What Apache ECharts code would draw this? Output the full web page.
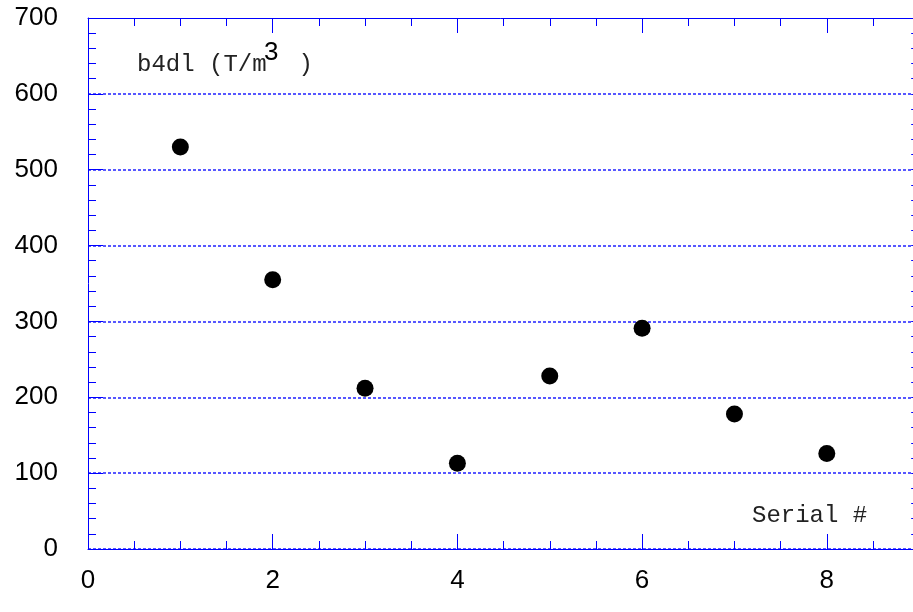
<!DOCTYPE html>
<html>
<head>
<meta charset="utf-8">
<script src="https://cdn.jsdelivr.net/npm/echarts@6/dist/echarts.min.js"></script>
<style>
html,body{margin:0;padding:0;background:#fff;}
#chart{width:913px;height:612px;}
</style>
</head>
<body>
<div id="chart"></div>
<script>
// Data
const serials = [1, 2, 3, 4, 5, 6, 7, 8];
const b4dl = [530, 355, 212, 113, 228, 291, 178, 126];
const yTicks = [0, 100, 200, 300, 400, 500, 600, 700];
const xTicks = [0, 2, 4, 6, 8];

const BLUE = '#0000ff';
const chart = echarts.init(document.getElementById('chart'), null, {renderer: 'canvas'});

const points = serials.map((s, i) => [s, b4dl[i]]);

function xAx(pos, labels) {
  return {
    type: 'value', position: pos, min: 0, max: 10, interval: 2,
    axisLine: {show: true, onZero: false, lineStyle: {color: BLUE, width: 1}},
    axisTick: {show: true, inside: true, length: 15, lineStyle: {color: BLUE}},
    minorTick: {show: true, splitNumber: 4, length: 8, lineStyle: {color: BLUE}},
    axisLabel: labels ? {
      show: true, fontSize: 26, color: '#000', fontFamily: 'Liberation Sans, Arial, sans-serif', margin: 19,
      formatter: v => (xTicks.indexOf(v) >= 0 ? String(v) : '')
    } : {show: false},
    splitLine: {show: false}
  };
}

const option = {
  backgroundColor: '#fff',
  animation: false,
  grid: {left: 88, top: 18, width: 923.5, height: 531, containLabel: false, outerBoundsMode: 'none'},
  xAxis: [xAx('bottom', true), xAx('top', false)],
  yAxis: [
    {
      type: 'value', position: 'left', min: 0, max: 700, interval: 100,
      axisLine: {show: true, onZero: false, lineStyle: {color: BLUE, width: 1}},
      axisTick: {show: true, inside: true, length: 15, lineStyle: {color: BLUE}},
      minorTick: {show: true, splitNumber: 5, length: 8, lineStyle: {color: BLUE}},
      axisLabel: {
        show: true, fontSize: 26, color: '#000', fontFamily: 'Liberation Sans, Arial, sans-serif', margin: 30,
        formatter: v => (yTicks.indexOf(v) >= 0 ? String(v) : '')
      },
      splitLine: {show: true, showMaxLine: false, lineStyle: {color: '#2020ff', type: [3, 2], width: 1.5}}
    },
    {
      type: 'value', position: 'right', offset: -92.3, min: 0, max: 700, interval: 100,
      axisLine: {show: false, onZero: false},
      axisTick: {show: true, inside: true, length: 8, lineStyle: {color: BLUE}},
      minorTick: {show: true, splitNumber: 5, length: 8, lineStyle: {color: BLUE}},
      axisLabel: {show: false},
      splitLine: {show: false}
    }
  ],
  series: [{
    type: 'scatter',
    xAxisIndex: 0, yAxisIndex: 0,
    data: points,
    symbol: 'circle',
    symbolSize: 17,
    itemStyle: {color: '#000', opacity: 1},
    z: 5
  }],
  graphic: [
    {type: 'text', left: 137, top: 53, style: {text: 'b4dl (T/m', font: '24px "Liberation Mono", "Courier New", monospace', fill: '#222'}},
    {type: 'text', left: 264, top: 40, style: {text: '3', font: '26px "Liberation Sans", Arial, sans-serif', fill: '#000'}},
    {type: 'text', left: 284, top: 53, style: {text: ' )', font: '24px "Liberation Mono", "Courier New", monospace', fill: '#222'}},
    {type: 'text', left: 752, top: 504, style: {text: 'Serial #', font: '24px "Liberation Mono", "Courier New", monospace', fill: '#222'}}
  ]
};
chart.setOption(option);
</script>
</body>
</html>
